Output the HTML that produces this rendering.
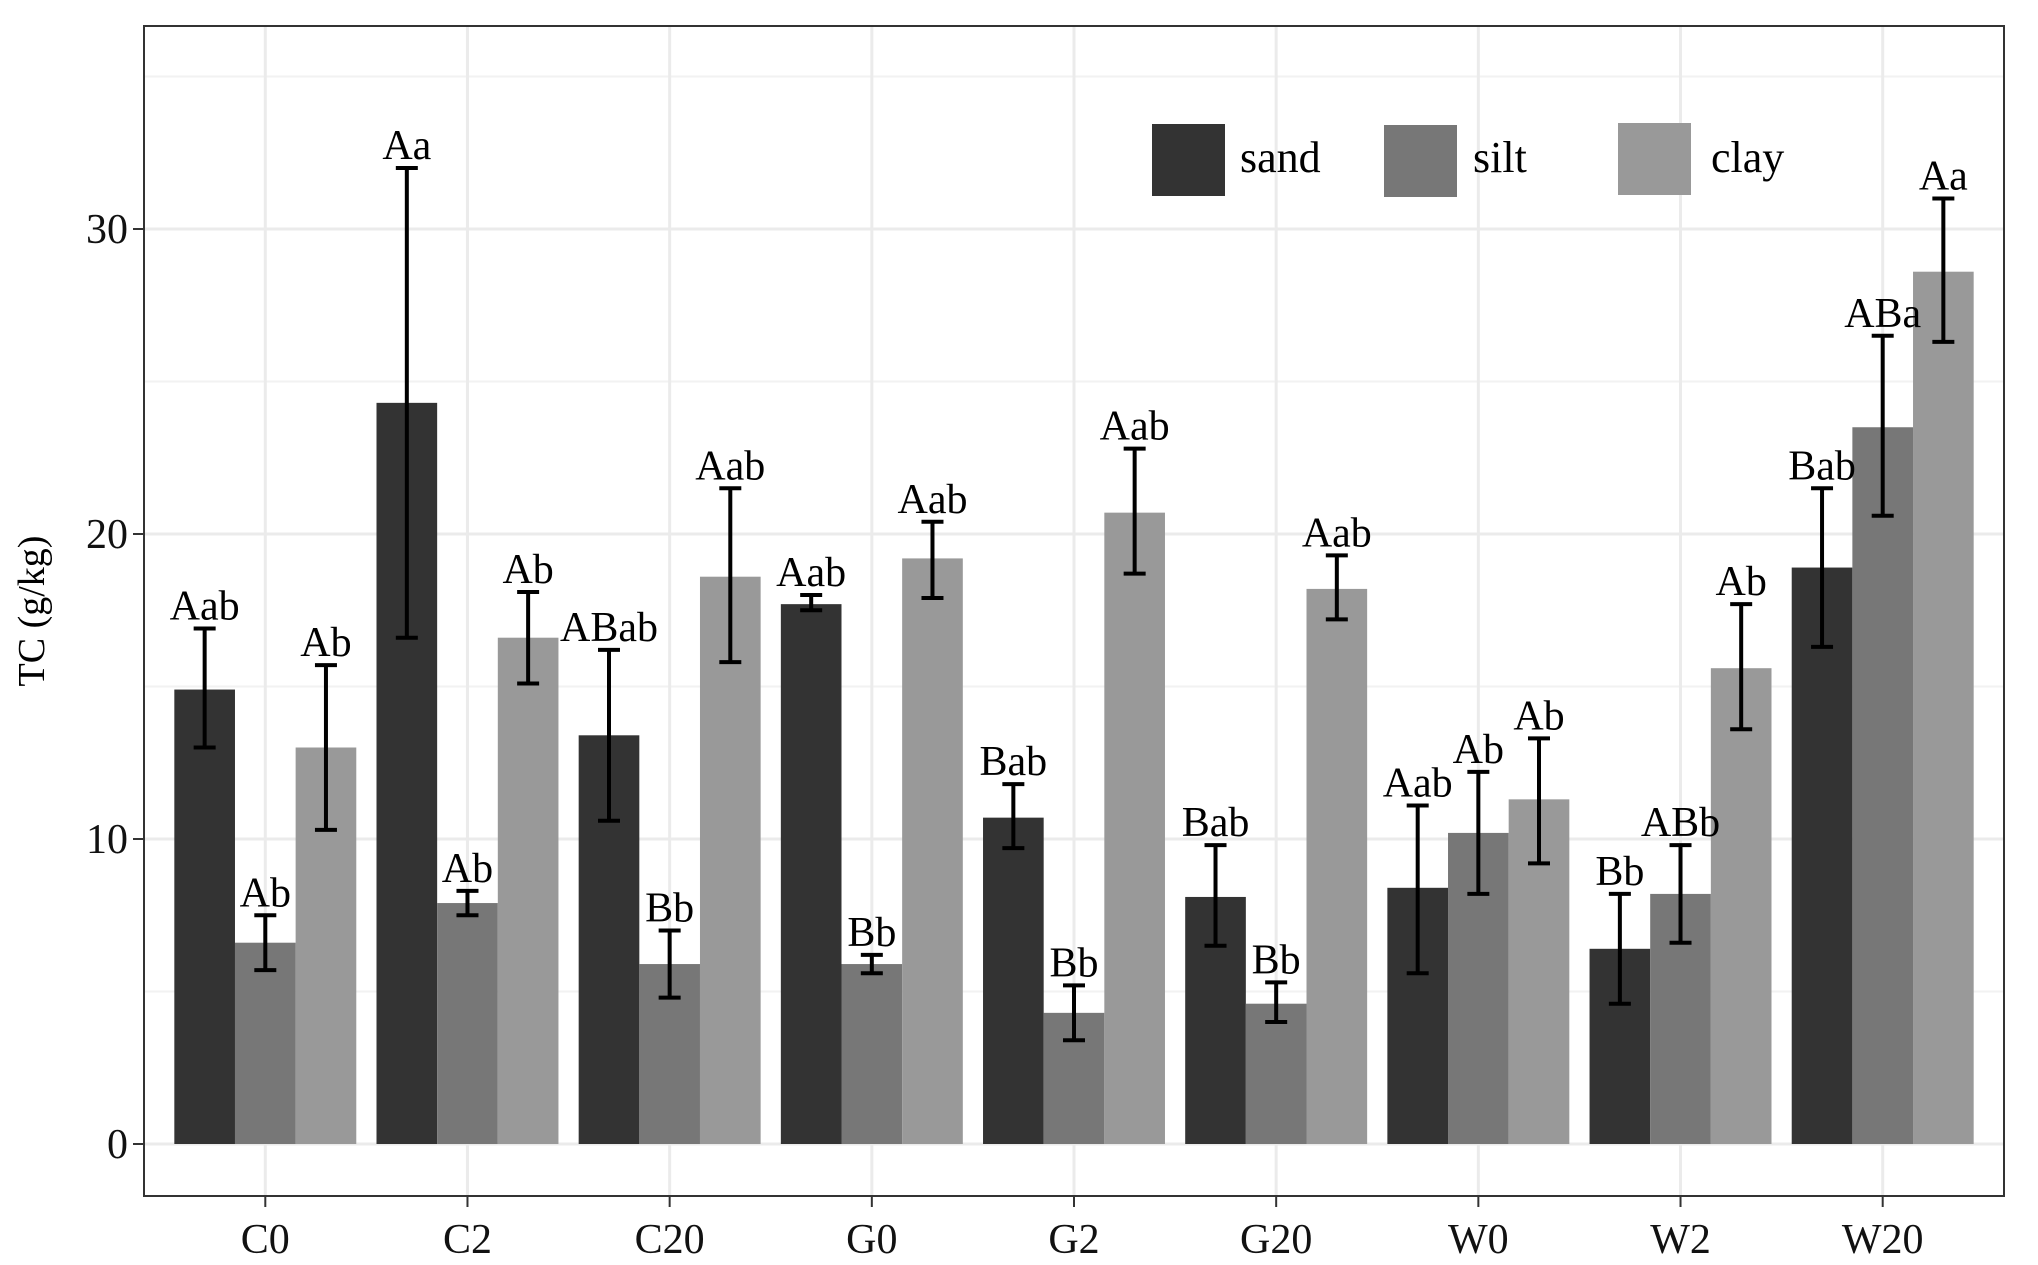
<!DOCTYPE html>
<html><head><meta charset="utf-8"><style>
html,body{margin:0;padding:0;background:#fff;}
svg{display:block;font-family:"Liberation Serif",serif;}
</style></head><body>
<svg id="chart" width="2038" height="1265" viewBox="0 0 2038 1265" xmlns="http://www.w3.org/2000/svg">
<rect x="0" y="0" width="2038" height="1265" fill="#fff"/>
<g id="grid"></g>
<g id="bars"></g>
<g id="errs"></g>
<g id="labels"></g>
<rect x="144" y="26" width="1860" height="1170" fill="none" stroke="#333" stroke-width="2"/>
<g id="axes"></g>
<text x="44" y="611" font-size="38" text-anchor="middle" transform="rotate(-90 44 611)">TC (g/kg)</text>
<g>
<rect x="1152" y="124" width="73" height="72" fill="#333333"/>
<text x="1240" y="172" font-size="44">sand</text>
<rect x="1384" y="125" width="73" height="72" fill="#777777"/>
<text x="1473" y="172" font-size="44">silt</text>
<rect x="1618" y="123" width="73" height="72" fill="#999999"/>
<text x="1711" y="172" font-size="44">clay</text>
</g>
</svg>
<script>
const categories = ["C0","C2","C20","G0","G2","G20","W0","W2","W20"];
const seriesNames = ["sand","silt","clay"];
const sandVals = [14.9,24.3,13.4,17.7,10.7,8.1,8.4,6.4,18.9];
const siltVals = [6.6,7.9,5.9,5.9,4.3,4.6,10.2,8.2,23.5];
const clayVals = [13.0,16.6,18.6,19.2,20.7,18.2,11.3,15.6,28.6];
const sandLo = [13.0,16.6,10.6,17.5,9.7,6.5,5.6,4.6,16.3];
const sandHi = [16.9,32.0,16.2,18.0,11.8,9.8,11.1,8.2,21.5];
const siltLo = [5.7,7.5,4.8,5.6,3.4,4.0,8.2,6.6,20.6];
const siltHi = [7.5,8.3,7.0,6.2,5.2,5.3,12.2,9.8,26.5];
const clayLo = [10.3,15.1,15.8,17.9,18.7,17.2,9.2,13.6,26.3];
const clayHi = [15.7,18.1,21.5,20.4,22.8,19.3,13.3,17.7,31.0];
const sandLabels = ["Aab","Aa","ABab","Aab","Bab","Bab","Aab","Bb","Bab"];
const siltLabels = ["Ab","Ab","Bb","Bb","Bb","Bb","Ab","ABb","ABa"];
const clayLabels = ["Ab","Ab","Aab","Aab","Aab","Aab","Ab","Ab","Aa"];
const yTicks = [0,10,20,30];
const yMinor = [5,15,25,35];

const NS="http://www.w3.org/2000/svg";
const colors=["#333333","#777777","#999999"];
const vals=[sandVals,siltVals,clayVals], los=[sandLo,siltLo,clayLo], his=[sandHi,siltHi,clayHi], labs=[sandLabels,siltLabels,clayLabels];
const X0=144,X1=2004,Y0=1144,PX=30.5;
const step=(X1-X0)/(categories.length+0.2);
function xc(i){return X0+step*(0.6+i);}
function y(v){return Y0-v*PX;}
const bw=step*0.9/3;
function mk(tag,attrs,parent){const e=document.createElementNS(NS,tag);for(const k in attrs)e.setAttribute(k,attrs[k]);document.getElementById(parent).appendChild(e);return e;}
yMinor.forEach(v=>{const l=mk("line",{x1:X0,x2:X1,y1:y(v),y2:y(v),stroke:"#f2f2f2","stroke-width":2},"grid");

});
yTicks.forEach(v=>{const l=mk("line",{x1:X0,x2:X1,y1:y(v),y2:y(v),stroke:"#ebebeb","stroke-width":3},"grid");


const t=mk("line",{x1:X0-11,x2:X0,y1:y(v),y2:y(v),stroke:"#333","stroke-width":2},"axes");


const tx=mk("text",{x:X0-16,y:y(v)+14,"font-size":42,"text-anchor":"end",fill:"#111"},"axes");tx.textContent=v;

});
categories.forEach((c,i)=>{const l=mk("line",{x1:xc(i),x2:xc(i),y1:26,y2:1196,stroke:"#ebebeb","stroke-width":3},"grid");


const t=mk("line",{x1:xc(i),x2:xc(i),y1:1196,y2:1207,stroke:"#333","stroke-width":2},"axes");


const tx=mk("text",{x:xc(i),y:1253,"font-size":42,"text-anchor":"middle",fill:"#111"},"axes");tx.textContent=c;


for(let s=0;s<3;s++){
 const bx=xc(i)-1.5*bw+s*bw, cx=bx+bw/2;
 const r=mk("rect",{x:bx,y:y(vals[s][i]),width:bw,height:vals[s][i]*PX,fill:colors[s]},"bars");
 
 
 const e=mk("path",{d:`M${cx-11},${y(his[s][i])}H${cx+11}M${cx},${y(his[s][i])}V${y(los[s][i])}M${cx-11},${y(los[s][i])}H${cx+11}`,stroke:"#000","stroke-width":4,fill:"none"},"errs");
 
 
 const lt=mk("text",{x:cx,y:y(his[s][i])-9,"font-size":42,"text-anchor":"middle",fill:"#000"},"labels");lt.textContent=labs[s][i];
 
 
}});
</script>
</body></html>
